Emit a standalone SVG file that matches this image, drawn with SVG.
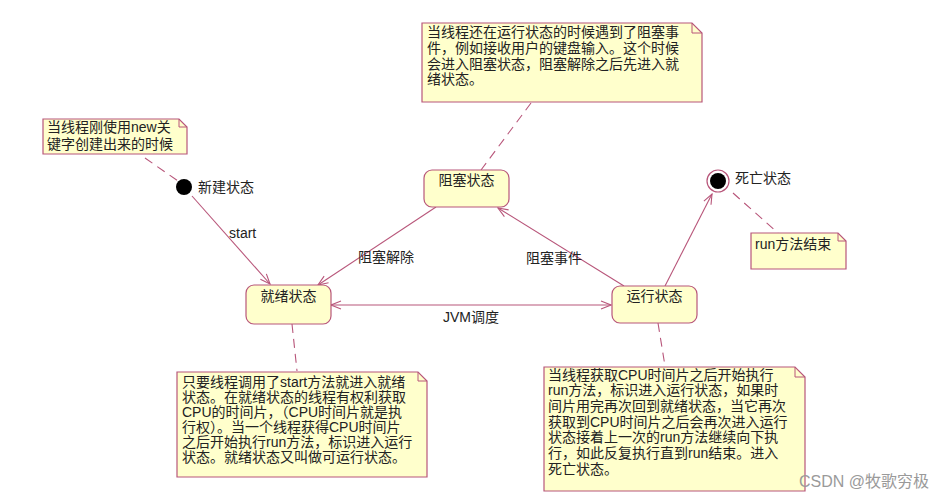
<svg xmlns="http://www.w3.org/2000/svg" width="951" height="500" viewBox="0 0 951 500">
<style>
text{font-family:"Liberation Sans","Noto Sans CJK SC",sans-serif;font-size:14px;fill:#222}
.state{fill:#ffffcc;stroke:#b8567a;stroke-width:1.2}
.note{fill:#ffffcc;stroke:#b8567a;stroke-width:1.2}
.fold{fill:none;stroke:#b8567a;stroke-width:1}
.edge{fill:none;stroke:#b8567a;stroke-width:1.1}
.dash{fill:none;stroke:#b8567a;stroke-width:1.1;stroke-dasharray:9,6}
.wm{font-size:16px;fill:#9a9a9a}
</style>
<defs>
<marker id="arr" viewBox="0 0 12 10" refX="11" refY="5" markerWidth="12" markerHeight="10" markerUnits="userSpaceOnUse" orient="auto-start-reverse">
<path d="M1,1 L11,5 L1,9" fill="none" stroke="#b8567a" stroke-width="1.1"/>
</marker>
</defs>
<rect width="951" height="500" fill="#ffffff"/>

<g id="connectors">
<line class="dash" x1="145" y1="158" x2="178" y2="181"/>
<line class="dash" x1="531" y1="103" x2="481" y2="170"/>
<line class="dash" x1="292" y1="324" x2="297" y2="371"/>
<line class="dash" x1="658" y1="323" x2="665" y2="366"/>
<line class="dash" x1="733" y1="193" x2="778" y2="233"/>
<line class="edge" x1="192" y1="196" x2="270" y2="284" marker-end="url(#arr)"/>
<line class="edge" x1="436" y1="207" x2="318" y2="285" marker-end="url(#arr)"/>
<line class="edge" x1="624" y1="286" x2="498" y2="208" marker-end="url(#arr)"/>
<line class="edge" x1="331" y1="305" x2="611" y2="305" marker-start="url(#arr)" marker-end="url(#arr)"/>
<line class="edge" x1="665" y1="286" x2="712" y2="194" marker-end="url(#arr)"/>
<text x="229" y="238">start</text>
<text x="358" y="262">阻塞解除</text>
<text x="526" y="263">阻塞事件</text>
<text x="443" y="322">JVM调度</text>
</g>

<g id="note-top">
<path class="note" d="M422,23 H692 L702,33 V102 H422 Z"/>
<path class="fold" d="M692,23 V33 H702"/>
<text x="427" y="37">当线程还在运行状态的时候遇到了阻塞事</text>
<text x="427" y="53">件，例如接收用户的键盘输入。这个时候</text>
<text x="427" y="69">会进入阻塞状态，阻塞解除之后先进入就</text>
<text x="427" y="84">绪状态。</text>
</g>

<g id="note-new">
<path class="note" d="M43,119 H179 L187,127 V154 H43 Z"/>
<path class="fold" d="M179,119 V127 H187"/>
<text x="47" y="132">当线程刚使用new关</text>
<text x="47" y="149">键字创建出来的时候</text>
</g>

<g id="initial">
<circle cx="184" cy="187" r="8" fill="#000"/>
<text x="198" y="192">新建状态</text>
</g>

<g id="state-blocked">
<rect class="state" x="424" y="170" width="85" height="37" rx="8"/>
<text x="466.5" y="185" text-anchor="middle">阻塞状态</text>
</g>

<g id="state-ready">
<rect class="state" x="246" y="285" width="85" height="39" rx="8"/>
<text x="288.5" y="301" text-anchor="middle">就绪状态</text>
</g>

<g id="state-running">
<rect class="state" x="612" y="286" width="85" height="37" rx="8"/>
<text x="654.5" y="301" text-anchor="middle">运行状态</text>
</g>

<g id="final">
<circle cx="718" cy="181" r="11" fill="#fff" stroke="#b8567a" stroke-width="1.2"/>
<circle cx="718" cy="181" r="8" fill="#000"/>
<text x="735" y="183">死亡状态</text>
</g>

<g id="note-run-end">
<path class="note" d="M751,233 H838 L846,241 V269 H751 Z"/>
<path class="fold" d="M838,233 V241 H846"/>
<text x="755" y="249">run方法结束</text>
</g>

<g id="note-ready">
<path class="note" d="M177,372 H418 L427,381 V477 H177 Z"/>
<path class="fold" d="M418,372 V381 H427"/>
<text x="182" y="387">只要线程调用了start方法就进入就绪</text>
<text x="182" y="402">状态。在就绪状态的线程有权利获取</text>
<text x="182" y="417">CPU的时间片，（CPU时间片就是执</text>
<text x="182" y="432">行权）。当一个线程获得CPU时间片</text>
<text x="182" y="447">之后开始执行run方法，标识进入运行</text>
<text x="182" y="462">状态。就绪状态又叫做可运行状态。</text>
</g>

<g id="note-running">
<path class="note" d="M544,367 H795 L805,377 V491 H544 Z"/>
<path class="fold" d="M795,367 V377 H805"/>
<text x="548" y="380">当线程获取CPU时间片之后开始执行</text>
<text x="548" y="395">run方法，标识进入运行状态，如果时</text>
<text x="548" y="411">间片用完再次回到就绪状态，当它再次</text>
<text x="548" y="427">获取到CPU时间片之后会再次进入运行</text>
<text x="548" y="442">状态接着上一次的run方法继续向下执</text>
<text x="548" y="458">行，如此反复执行直到run结束。进入</text>
<text x="548" y="474">死亡状态。</text>
</g>

<text class="wm" x="799" y="487">CSDN @牧歌穷极</text>
</svg>
